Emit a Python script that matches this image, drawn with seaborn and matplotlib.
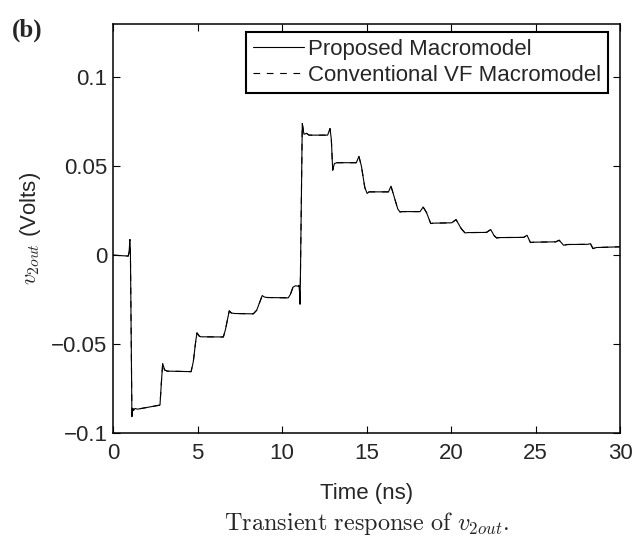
import matplotlib
matplotlib.use("Agg")
import matplotlib.pyplot as plt
import seaborn as sns
import pandas as pd
from matplotlib.ticker import FuncFormatter

# ---- data ----
time_ns = [0.0, 0.9, 0.95, 1.0, 1.03, 1.12, 1.17, 1.22, 1.3, 1.45, 2.78, 2.86, 2.94, 3.05, 3.2,
           4.62, 4.75, 4.9, 4.97, 5.1, 5.2, 6.53, 6.65, 6.8, 6.88, 7.0, 7.2, 8.3, 8.5, 8.7,
           8.83, 8.95, 9.1, 10.37, 10.5, 10.65, 10.8, 10.97, 11.02, 11.07, 11.2, 11.3, 11.45,
           11.6, 12.7, 12.84, 12.92, 13.0, 13.1, 13.25, 14.4, 14.55, 14.7, 14.9, 15.04, 15.15,
           16.3, 16.45, 16.6, 16.85, 16.98, 17.1, 18.17, 18.35, 18.55, 18.8, 18.95, 20.04,
           20.3, 20.6, 20.83, 21.0, 22.1, 22.35, 22.55, 22.7, 22.9, 24.3, 24.5, 24.7, 24.9,
           26.2, 26.4, 26.66, 26.9, 28.1, 28.25, 28.4, 28.6, 30.0]
v_proposed = [0.0, -0.0005, 0.0015, 0.0088, 0.002, -0.0908, -0.0862, -0.0872, -0.0862, -0.0866,
              -0.0843, -0.072, -0.0609, -0.0645, -0.0652, -0.0655, -0.060, -0.048, -0.0437,
              -0.0455, -0.0459, -0.0460, -0.042, -0.035, -0.0313, -0.0325, -0.0328, -0.033,
              -0.031, -0.026, -0.0227, -0.0235, -0.0238, -0.024, -0.022, -0.018, -0.0172,
              -0.0175, -0.0169, -0.0275, 0.074, 0.068, 0.0685, 0.0675, 0.0675, 0.0712, 0.065,
              0.0478, 0.0515, 0.052, 0.052, 0.0556, 0.050, 0.038, 0.0347, 0.0356, 0.0356,
              0.0388, 0.034, 0.026, 0.0243, 0.0245, 0.0245, 0.0271, 0.024, 0.0178, 0.018,
              0.0182, 0.020, 0.015, 0.0125, 0.0127, 0.0128, 0.0144, 0.011, 0.0097, 0.0099,
              0.0100, 0.0112, 0.0071, 0.0073, 0.0075, 0.0084, 0.0056, 0.006, 0.0061, 0.0065,
              0.0037, 0.0043, 0.0047]
v_conventional = list(v_proposed)

series_labels = ["Proposed Macromodel", "Conventional VF Macromodel"]
x_ticks = [0, 5, 10, 15, 20, 25, 30]
y_ticks = [-0.1, -0.05, 0, 0.05, 0.1]

# ---- style ----
sns.set_style("ticks")
plt.rcParams["font.family"] = ["Liberation Sans", "DejaVu Sans"]
plt.rcParams["mathtext.fontset"] = "cm"
plt.rcParams["xtick.direction"] = "in"
plt.rcParams["ytick.direction"] = "in"

fig = plt.figure(figsize=(6.44, 5.39), dpi=100)
ax = fig.add_axes([113 / 644, 1 - 433 / 539, (620 - 113) / 644, (433 - 24) / 539])

df1 = pd.DataFrame({"t": time_ns, "v": v_proposed})
df2 = pd.DataFrame({"t": time_ns, "v": v_conventional})
sns.lineplot(data=df1, x="t", y="v", ax=ax, color="black", lw=0.8,
             estimator=None, sort=False, label=series_labels[0])
sns.lineplot(data=df2, x="t", y="v", ax=ax, color="black", lw=0.8, dashes=False,
             estimator=None, sort=False, label=series_labels[1])
ax.lines[1].set_dashes((6, 6))

ax.set_xlim(0, 30)
ax.set_ylim(-0.1, 0.13)
ax.set_xticks(x_ticks)
ax.set_yticks(y_ticks)
ax.yaxis.set_major_formatter(FuncFormatter(lambda v, p: ("%g" % v).replace("-", "\u2212")))
ax.tick_params(axis="both", labelsize=16, length=5, width=0.8, top=True, right=True,
               color="black")
ax.tick_params(axis="x", pad=7)
ax.tick_params(axis="y", pad=4)
for s in ax.spines.values():
    s.set_visible(True)
    s.set_linewidth(1.1)
    s.set_color("black")

ax.set_xlabel("Time (ns)", fontsize=16, labelpad=14)
ax.set_ylabel(r"$v_{2out}$ (Volts)", fontsize=16, labelpad=6)

leg = ax.legend(loc="upper right", bbox_to_anchor=(1 - 12 / 507, 1 - 8 / 409),
                borderaxespad=0, fontsize=16, frameon=True, fancybox=False,
                edgecolor="black", handlelength=2.3, handletextpad=0.18,
                borderpad=0.3, labelspacing=0.25)
leg.get_frame().set_linewidth(1.5)
leg.get_frame().set_alpha(1)

fig.text(12 / 644, 1 - 30 / 539, "(b)", fontsize=18, fontweight="bold",
         family="Liberation Serif", ha="left", va="center")
fig.text(367 / 644, 1 - 530 / 539, r"$\mathrm{Transient\ response\ of}\ v_{2out}.$",
         fontsize=17.5, ha="center", va="baseline")

fig.savefig("out.png", dpi=100)
